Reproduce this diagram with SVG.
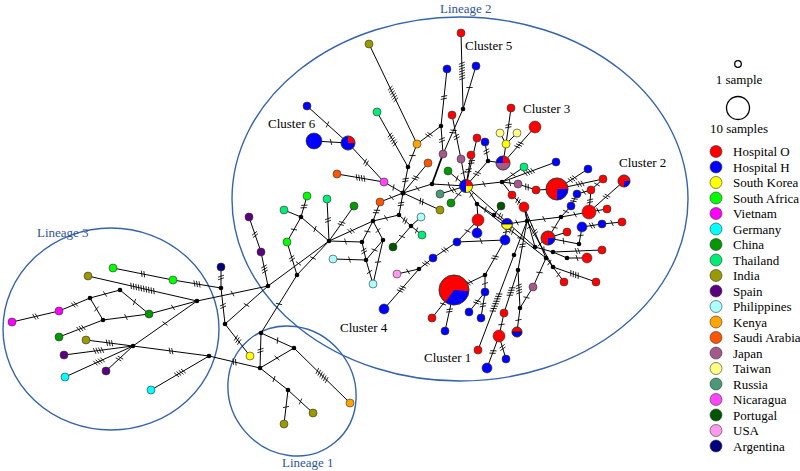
<svg xmlns="http://www.w3.org/2000/svg" width="800" height="471" viewBox="0 0 800 471">
<style>
.e{fill:none;stroke:#000;stroke-width:1}
.n{stroke:#333;stroke-width:.6}
.ol{fill:none;stroke:#333;stroke-width:.6}
.m{fill:#000}
.lin{fill:none;stroke:#3563ad;stroke-width:1.4}
.lt{font-family:"Liberation Serif",serif;font-size:13px;fill:#2f5597}
.ct{font-family:"Liberation Serif",serif;font-size:13px;fill:#000}
.O{fill:#ff0000}.H{fill:#0000ff}.SK{fill:#ffff00}.SA{fill:#00ff00}.VN{fill:#ff00ff}.DE{fill:#00ffff}.CN{fill:#009900}.TH{fill:#00ee77}.IN{fill:#999900}.ES{fill:#5a0080}.PH{fill:#aaffff}.KE{fill:#ffa500}.SAU{fill:#ff5500}.JP{fill:#a5588a}.TW{fill:#ffff88}.RU{fill:#4a9a7a}.NI{fill:#ff44ff}.PT{fill:#005500}.US{fill:#ff99ee}.AR{fill:#000080}
.k1{marker-mid:url(#t1)}.k2{marker-mid:url(#t2)}.k3{marker-mid:url(#t3)}.k4{marker-mid:url(#t4)}.k5{marker-mid:url(#t5)}.k6{marker-mid:url(#t6)}.k7{marker-mid:url(#t7)}.k8{marker-mid:url(#t8)}.k10{marker-mid:url(#t10)}
</style>
<defs>
<marker id="t1" markerUnits="userSpaceOnUse" orient="auto" overflow="visible" markerWidth="1" markerHeight="1"><path d="M-1 -3L1 3" stroke="#000" stroke-width=".8"/></marker>
<marker id="t2" markerUnits="userSpaceOnUse" orient="auto" overflow="visible" markerWidth="1" markerHeight="1"><path d="M-2.3 -3L-.3 3M.3 -3L2.3 3" stroke="#000" stroke-width=".8"/></marker>
<marker id="t3" markerUnits="userSpaceOnUse" orient="auto" overflow="visible" markerWidth="1" markerHeight="1"><path d="M-3.6 -3L-1.6 3M-1 -3L1 3M1.6 -3L3.6 3" stroke="#000" stroke-width=".8"/></marker>
<marker id="t4" markerUnits="userSpaceOnUse" orient="auto" overflow="visible" markerWidth="1" markerHeight="1"><path d="M-4.9 -3L-2.9 3M-2.3 -3L-.3 3M.3 -3L2.3 3M2.9 -3L4.9 3" stroke="#000" stroke-width=".8"/></marker>
<marker id="t5" markerUnits="userSpaceOnUse" orient="auto" overflow="visible" markerWidth="1" markerHeight="1"><path d="M-6.2 -3L-4.2 3M-3.6 -3L-1.6 3M-1 -3L1 3M1.6 -3L3.6 3M4.2 -3L6.2 3" stroke="#000" stroke-width=".8"/></marker>
<marker id="t6" markerUnits="userSpaceOnUse" orient="auto" overflow="visible" markerWidth="1" markerHeight="1"><path d="M-7.5 -3L-5.5 3M-4.9 -3L-2.9 3M-2.3 -3L-.3 3M.3 -3L2.3 3M2.9 -3L4.9 3M5.5 -3L7.5 3" stroke="#000" stroke-width=".8"/></marker>
<marker id="t7" markerUnits="userSpaceOnUse" orient="auto" overflow="visible" markerWidth="1" markerHeight="1"><path d="M-8.8 -3L-6.8 3M-6.2 -3L-4.2 3M-3.6 -3L-1.6 3M-1 -3L1 3M1.6 -3L3.6 3M4.2 -3L6.2 3M6.8 -3L8.8 3" stroke="#000" stroke-width=".8"/></marker>
<marker id="t8" markerUnits="userSpaceOnUse" orient="auto" overflow="visible" markerWidth="1" markerHeight="1"><path d="M-10.1 -3L-8.1 3M-7.5 -3L-5.5 3M-4.9 -3L-2.9 3M-2.3 -3L-.3 3M.3 -3L2.3 3M2.9 -3L4.9 3M5.5 -3L7.5 3M8.1 -3L10.1 3" stroke="#000" stroke-width=".8"/></marker>
<marker id="t10" markerUnits="userSpaceOnUse" orient="auto" overflow="visible" markerWidth="1" markerHeight="1"><path d="M-12.7 -3L-10.7 3M-10.1 -3L-8.1 3M-7.5 -3L-5.5 3M-4.9 -3L-2.9 3M-2.3 -3L-.3 3M.3 -3L2.3 3M2.9 -3L4.9 3M5.5 -3L7.5 3M8.1 -3L10.1 3M10.7 -3L12.7 3" stroke="#000" stroke-width=".8"/></marker>
</defs>
<rect width="800" height="471" fill="#fff"/>
<g id="lineages">
<ellipse class="lin" cx="111" cy="329" rx="108" ry="101"/>
<ellipse class="lin" cx="0" cy="0" rx="67" ry="62" transform="translate(292 391) rotate(50)"/>
<ellipse class="lin" cx="460" cy="199" rx="228" ry="182"/>
<text class="lt" x="37" y="237">Lineage 3</text>
<text class="lt" x="282" y="467">Lineage 1</text>
<text class="lt" x="440" y="12.5">Lineage 2</text>
<text class="ct" x="268" y="128">Cluster 6</text>
<text class="ct" x="465" y="50">Cluster 5</text>
<text class="ct" x="523" y="112.5">Cluster 3</text>
<text class="ct" x="619" y="166.5">Cluster 2</text>
<text class="ct" x="340" y="331.5">Cluster 4</text>
<text class="ct" x="424" y="361.5">Cluster 1</text>
</g>
<g id="connectors">
<path class="e k2" d="M12 322L35.5 316.5L59 311"/>
<path class="e k2" d="M59 311L74.5 304.5L90 298"/>
<path class="e k1" d="M90 298L105 294L120 290"/>
<path class="e k1" d="M90 298L96.5 309L103 320"/>
<path class="e k1" d="M120 290L134.5 302L149 314"/>
<path class="e k1" d="M103 320L126 317L149 314"/>
<path class="e k3" d="M103 320L81 328.5L59 337"/>
<path class="e k1" d="M149 314L173 307.5L197 301"/>
<path class="e k10" d="M88 276L142.5 288.5L197 301"/>
<path class="e k2" d="M113 268L143 274L173 280"/>
<path class="e k3" d="M173 280L197 284L221 288"/>
<path class="e k1" d="M197 301L232.5 293.5L268 286"/>
<path class="e k1" d="M197 301L165 323.5L133 346"/>
<path class="e k3" d="M86 340L109.5 343L133 346"/>
<path class="e k4" d="M64 355L98.5 350.5L133 346"/>
<path class="e k4" d="M65 377L99 361.5L133 346"/>
<path class="e k2" d="M106 371L119.5 358.5L133 346"/>
<path class="e k2" d="M133 346L171 351L209 356"/>
<path class="e k4" d="M151 390L180 373L209 356"/>
<path class="e k2" d="M209 356L234.5 362L260 368"/>
<path class="e k2" d="M221 267L221 277.5L221 288"/>
<path class="e k2" d="M221 288L223 306L225 324"/>
<path class="e k1" d="M225 324L246.5 305L268 286"/>
<path class="e k3" d="M225 324L237.5 340L250 356"/>
<path class="e k2" d="M249 217L255 234.5L261 252"/>
<path class="e k3" d="M261 252L264.5 269L268 286"/>
<path class="e k1" d="M268 286L298.5 263.5L329 241"/>
<path class="e k1" d="M261 333L279 304L297 275"/>
<path class="e k2" d="M261 333L260.5 350.5L260 368"/>
<path class="e k1" d="M261 333L277.5 340.5L294 348"/>
<path class="e k1" d="M260 368L277 358L294 348"/>
<path class="e k1" d="M260 368L274 379L288 390"/>
<path class="e k6" d="M294 348L322 375.5L350 403"/>
<path class="e k1" d="M288 390L286 407L284 424"/>
<path class="e k1" d="M288 390L300.5 401.5L313 413"/>
<path class="e k1" d="M297 275L313 258L329 241"/>
<path class="e k2" d="M297 275L292 258.5L287 242"/>
<path class="e k1" d="M287 242L294 229.5L301 217"/>
<path class="e k2" d="M301 217L304 206.5L307 196"/>
<path class="e" d="M301 217L284 210"/>
<path class="e k1" d="M301 217L315 229L329 241"/>
<path class="e k2" d="M327 199L328 220L329 241"/>
<path class="e k2" d="M354 206L341.5 223.5L329 241"/>
<path class="e k1" d="M329 241L345.5 241.5L362 242"/>
<path class="e k2" d="M329 241L351 231L373 221"/>
<path class="e k2" d="M373 221L376.5 211.5L380 202"/>
<path class="e k1" d="M380 202L391.5 197.5L403 193"/>
<path class="e k1" d="M373 221L386 218L399 215"/>
<path class="e k2" d="M399 215L401 204L403 193"/>
<path class="e k1" d="M373 221L367.5 231.5L362 242"/>
<path class="e k1" d="M373 221L378 230.5L383 240"/>
<path class="e k2" d="M362 242L364 251L366 260"/>
<path class="e k1" d="M383 240L374.5 250L366 260"/>
<path class="e k1" d="M366 260L349.5 259.5L333 259"/>
<path class="e k1" d="M366 260L369.5 272L373 284"/>
<path class="e k1" d="M383 240L378 262L373 284"/>
<path class="e k2" d="M399 215L405 220.5L411 226"/>
<path class="e" d="M411 226L421 217"/>
<path class="e k1" d="M411 226L416.5 230.5L422 235"/>
<path class="e k1" d="M411 226L402 236.5L393 247"/>
<path class="e k1" d="M397 274L408 271.5L419 269"/>
<path class="e k2" d="M419 269L426 263.5L433 258"/>
<path class="e k3" d="M419 269L401.5 289L384 309"/>
<path class="e k2" d="M433 258L445 250L457 242"/>
<path class="e k1" d="M307 106L327.5 124.5L348 143"/>
<path class="e k1" d="M314 141L331 142L348 143"/>
<path class="e k2" d="M348 143L366 162.5L384 182"/>
<path class="e k4" d="M337 174L360.5 178L384 182"/>
<path class="e k1" d="M384 182L393.5 187.5L403 193"/>
<path class="e k5" d="M377 112L392.5 139.5L408 167"/>
<path class="e k6" d="M369 44L393 94L417 144"/>
<path class="e k1" d="M417 144L412.5 155.5L408 167"/>
<path class="e k2" d="M408 167L405.5 180L403 193"/>
<path class="e k2" d="M417 144L429 135L441 126"/>
<path class="e k2" d="M441 126L444 97.5L447 69"/>
<path class="e k2" d="M441 126L442 140L443 154"/>
<path class="e" style="stroke-width:1.8" d="M443 154L432 184"/>
<path class="e k2" d="M428 163L415.5 178L403 193"/>
<path class="e k1" d="M403 193L417.5 188.5L432 184"/>
<path class="e k1" d="M432 184L449 185L466 186"/>
<path class="e k2" d="M440 194L453 190L466 186"/>
<path class="e k2" d="M403 193L421.5 201.5L440 210"/>
<path class="e k1" d="M451 203L458.5 194.5L466 186"/>
<path class="e k1" d="M448 171L457 178.5L466 186"/>
<path class="e k1" d="M461 159L463.5 172.5L466 186"/>
<path class="e k2" d="M471 155L468.5 170.5L466 186"/>
<path class="e k2" d="M477 138L471.5 162L466 186"/>
<path class="e k2" d="M485 142L486.5 151.5L488 161"/>
<path class="e k2" d="M488 161L477 173.5L466 186"/>
<path class="e" d="M488 161L503 163"/>
<path class="e k2" d="M511 108L508.5 126L506 144"/>
<path class="e" d="M500 133L506 144"/>
<path class="e" d="M517 133L506 144"/>
<path class="e" d="M506 144L503 163"/>
<path class="e k3" d="M535 127L519 145L503 163"/>
<path class="e k7" d="M461 33L462 71L463 109"/>
<path class="e k1" d="M476 66L469.5 87.5L463 109"/>
<path class="e k2" d="M463 109L453 131.5L443 154"/>
<path class="e k2" d="M452 115L456.5 137L461 159"/>
<path class="e k1" d="M466 186L484 184L502 182"/>
<path class="e k1" d="M502 182L510 183L518 184"/>
<path class="e k1" d="M502 182L513 174.5L524 167"/>
<path class="e k4" d="M502 182L529 172L556 162"/>
<path class="e k2" d="M518 184L527 187L536 190"/>
<path class="e k3" d="M557 189L572.5 179L588 169"/>
<path class="e k3" d="M557 189L580 184L603 179"/>
<path class="e k1" d="M603 179L597 184.5L591 190"/>
<path class="e k1" d="M577 194L584 192L591 190"/>
<path class="e k2" d="M591 190L590 201L589 212"/>
<path class="e k2" d="M577 194L574 200L571 206"/>
<path class="e k1" d="M571 206L566 211.5L561 217"/>
<path class="e k2" d="M624 181L606.5 196.5L589 212"/>
<path class="e k1" d="M589 212L598 210.5L607 209"/>
<path class="e k1" d="M589 212L575 214.5L561 217"/>
<path class="e k1" d="M561 217L554.5 227.5L548 238"/>
<path class="e k1" d="M561 217L544 219L527 221"/>
<path class="e" d="M527 221L524 207"/>
<path class="e k2" d="M582 227L592 225.5L602 224"/>
<path class="e k1" d="M602 224L612 223L622 222"/>
<path class="e" d="M548 238L567 232"/>
<path class="e k1" d="M548 238L563.5 241L579 244"/>
<path class="e k1" d="M579 244L580.5 235.5L582 227"/>
<path class="e k1" d="M535 247L544 249.5L553 252"/>
<path class="e k2" d="M553 252L577.5 251L602 250"/>
<path class="e" d="M553 252L567 258"/>
<path class="e k1" d="M567 258L577 258L587 258"/>
<path class="e k1" d="M546 258L549.5 262.5L553 267"/>
<path class="e k4" d="M553 267L574.5 274.5L596 282"/>
<path class="e k1" d="M553 267L558.5 274.5L564 282"/>
<path class="e k1" d="M533 287L526.5 297.5L520 308"/>
<path class="e k1" d="M533 287L539.5 272.5L546 258"/>
<path class="e k1" d="M466 186L471.5 195L477 204"/>
<path class="e" d="M477 204L478 220"/>
<path class="e k1" d="M477 204L485.5 209.5L494 215"/>
<path class="e" d="M494 215L507 224"/>
<path class="e k1" d="M507 224L517 222.5L527 221"/>
<path class="e k1" d="M507 224L506 232L505 240"/>
<path class="e k1" d="M457 242L481 241L505 240"/>
<path class="e" d="M478 220L477 233"/>
<path class="e k1" d="M457 242L467.5 231L478 220"/>
<path class="e k2" d="M505 240L495 257.5L485 275"/>
<path class="e k2" d="M485 275L469.5 282.5L454 290"/>
<path class="e k1" d="M485 275L485 283.5L485 292"/>
<path class="e k2" d="M469 312L477 302L485 292"/>
<path class="e k2" d="M481 318L483 305L485 292"/>
<path class="e k1" d="M454 290L443 304L432 318"/>
<path class="e k2" d="M454 290L449.5 310.5L445 331"/>
<path class="e k1" d="M527 221L520.5 238L514 255"/>
<path class="e k8" d="M514 255L496 302.5L478 350"/>
<path class="e k2" d="M527 221L522.5 245.5L518 270"/>
<path class="e k4" d="M518 270L511 291.5L504 313"/>
<path class="e k4" d="M518 270L519 289L520 308"/>
<path class="e k1" d="M504 313L501.5 324.5L499 336"/>
<path class="e k2" d="M499 336L493 352L487 368"/>
<path class="e k2" d="M499 336L502.5 347.5L506 359"/>
<path class="e k1" d="M517 332L518.5 320L520 308"/>
<path class="e k1" d="M524 207L529.5 227L535 247"/>
<path class="e k2" d="M512 195L518 201L524 207"/>
<path class="e" d="M512 195L502 182"/>
<path class="e k2" d="M524 207L535 232.5L546 258"/>
<path class="e k1" d="M527 221L540 244L553 267"/>
<path class="e" d="M501 206L494 215"/>
<path class="e" d="M536 190L557 189"/>
<path class="e k2" d="M466 186L500.5 216.5L535 247"/>
<path class="e k2" d="M477 204L511.5 231L546 258"/>
</g>
<g id="nodes">
<g id="l3_vn1"><circle class="n VN" cx="12" cy="322" r="4"/></g>
<g id="l3_vn2"><circle class="n VN" cx="59" cy="311" r="4"/></g>
<g id="l3_m1"><circle class="m" cx="90" cy="298" r="2.3"/></g>
<g id="l3_m2"><circle class="m" cx="120" cy="290" r="2.3"/></g>
<g id="l3_m3"><circle class="m" cx="103" cy="320" r="2.3"/></g>
<g id="l3_cn1"><circle class="n CN" cx="149" cy="314" r="4"/></g>
<g id="l3_in1"><circle class="n IN" cx="88" cy="276" r="4"/></g>
<g id="l3_sa1"><circle class="n SA" cx="113" cy="268" r="4"/></g>
<g id="l3_sa2"><circle class="n SA" cx="173" cy="280" r="4"/></g>
<g id="l3_m4"><circle class="m" cx="197" cy="301" r="2.3"/></g>
<g id="l3_cn2"><circle class="n CN" cx="59" cy="337" r="4"/></g>
<g id="l3_in2"><circle class="n IN" cx="86" cy="340" r="4"/></g>
<g id="l3_m5"><circle class="m" cx="133" cy="346" r="2.3"/></g>
<g id="l3_es1"><circle class="n ES" cx="64" cy="355" r="4"/></g>
<g id="l3_de1"><circle class="n DE" cx="65" cy="377" r="4"/></g>
<g id="l3_es2"><circle class="n ES" cx="106" cy="371" r="4"/></g>
<g id="l3_m6"><circle class="m" cx="209" cy="356" r="2.3"/></g>
<g id="l3_de2"><circle class="n DE" cx="151" cy="390" r="4"/></g>
<g id="j_ar"><circle class="n AR" cx="221" cy="267" r="4"/></g>
<g id="j_m1"><circle class="m" cx="221" cy="288" r="2.3"/></g>
<g id="j_m2"><circle class="m" cx="225" cy="324" r="2.3"/></g>
<g id="j_sk"><circle class="n SK" cx="250" cy="356" r="4"/></g>
<g id="j_es1"><circle class="n ES" cx="249" cy="217" r="4"/></g>
<g id="j_es2"><circle class="n ES" cx="261" cy="252" r="4"/></g>
<g id="j_m3"><circle class="m" cx="268" cy="286" r="2.3"/></g>
<g id="l1_m1"><circle class="m" cx="261" cy="333" r="2.3"/></g>
<g id="l1_m2"><circle class="m" cx="260" cy="368" r="2.3"/></g>
<g id="l1_m3"><circle class="m" cx="294" cy="348" r="2.3"/></g>
<g id="l1_m4"><circle class="m" cx="288" cy="390" r="2.3"/></g>
<g id="l1_ke"><circle class="n KE" cx="350" cy="403" r="4"/></g>
<g id="l1_in1"><circle class="n IN" cx="284" cy="424" r="4"/></g>
<g id="l1_in2"><circle class="n IN" cx="313" cy="413" r="4"/></g>
<g id="m_a"><circle class="m" cx="297" cy="275" r="2.3"/></g>
<g id="sa_a"><circle class="n SA" cx="287" cy="242" r="4"/></g>
<g id="m_b"><circle class="m" cx="301" cy="217" r="2.3"/></g>
<g id="sa_b"><circle class="n SA" cx="307" cy="196" r="4"/></g>
<g id="th_a"><circle class="n TH" cx="284" cy="210" r="4"/></g>
<g id="m_c"><circle class="m" cx="329" cy="241" r="2.3"/></g>
<g id="th_b"><circle class="n TH" cx="327" cy="199" r="4"/></g>
<g id="cn_a"><circle class="n CN" cx="354" cy="206" r="4"/></g>
<g id="m_d"><circle class="m" cx="362" cy="242" r="2.3"/></g>
<g id="m_e"><circle class="m" cx="373" cy="221" r="2.3"/></g>
<g id="sau_a"><circle class="n SAU" cx="380" cy="202" r="4"/></g>
<g id="hub"><circle class="m" cx="403" cy="193" r="2.5"/></g>
<g id="m_f"><circle class="m" cx="399" cy="215" r="2.3"/></g>
<g id="m_g"><circle class="m" cx="383" cy="240" r="2.3"/></g>
<g id="m_h"><circle class="m" cx="366" cy="260" r="2.3"/></g>
<g id="ph_a"><circle class="n PH" cx="333" cy="259" r="4"/></g>
<g id="ph_b"><circle class="n PH" cx="373" cy="284" r="4"/></g>
<g id="m_i"><circle class="m" cx="411" cy="226" r="2.3"/></g>
<g id="ph_c"><circle class="n PH" cx="421" cy="217" r="4"/></g>
<g id="th_c"><circle class="n TH" cx="422" cy="235" r="4"/></g>
<g id="pt_a"><circle class="n PT" cx="393" cy="247" r="4"/></g>
<g id="us_a"><circle class="n US" cx="397" cy="274" r="4"/></g>
<g id="m_j"><circle class="m" cx="419" cy="269" r="2.3"/></g>
<g id="h_a"><circle class="n H" cx="433" cy="258" r="4"/></g>
<g id="h_b"><circle class="n H" cx="384" cy="309" r="5"/></g>
<g id="h_c"><circle class="n H" cx="457" cy="242" r="4"/></g>
<g id="h_c6a"><circle class="n H" cx="307" cy="106" r="4"/></g>
<g id="h_c6big"><circle class="n H" cx="314" cy="141" r="8"/></g>
<g id="ho_c6"><circle class="n H" cx="348" cy="143" r="7"/><path class="O" d="M348 143L348 136A7 7 0 0 1 355 143Z"/><circle class="ol" cx="348" cy="143" r="7"/></g>
<g id="nic"><circle class="n NI" cx="384" cy="182" r="4"/></g>
<g id="sau_b"><circle class="n SAU" cx="337" cy="174" r="4"/></g>
<g id="th_d"><circle class="n TH" cx="377" cy="112" r="4"/></g>
<g id="m_k"><circle class="m" cx="408" cy="167" r="2.3"/></g>
<g id="in_a"><circle class="n IN" cx="369" cy="44" r="4"/></g>
<g id="ke_a"><circle class="n KE" cx="417" cy="144" r="4"/></g>
<g id="m_l"><circle class="m" cx="441" cy="126" r="2.3"/></g>
<g id="h_d"><circle class="n H" cx="447" cy="69" r="4"/></g>
<g id="jp_a"><circle class="n JP" cx="443" cy="154" r="4"/></g>
<g id="sau_c"><circle class="n SAU" cx="428" cy="163" r="4"/></g>
<g id="m_n"><circle class="m" cx="432" cy="184" r="2.3"/></g>
<g id="ru"><circle class="n RU" cx="440" cy="194" r="4"/></g>
<g id="in_b"><circle class="n IN" cx="440" cy="210" r="4"/></g>
<g id="cn_b"><circle class="n CN" cx="451" cy="203" r="4"/></g>
<g id="cn_c"><circle class="n CN" cx="448" cy="171" r="4"/></g>
<g id="jp_b"><circle class="n JP" cx="461" cy="159" r="4"/></g>
<g id="o_a"><circle class="n O" cx="471" cy="155" r="4"/></g>
<g id="o_b"><circle class="n O" cx="477" cy="138" r="4"/></g>
<g id="h_e"><circle class="n H" cx="485" cy="142" r="4"/></g>
<g id="m_o"><circle class="m" cx="488" cy="161" r="2.3"/></g>
<g id="mc"><circle class="n H" cx="466" cy="186" r="6.5"/><path class="O" d="M466 186L466 179.5A6.5 6.5 0 0 1 472.5 186Z"/><path class="SK" d="M466 186L472.5 186A6.5 6.5 0 0 1 466 192.5Z"/><circle class="ol" cx="466" cy="186" r="6.5"/></g>
<g id="mc2"><circle class="n JP" cx="503" cy="163" r="7"/><path class="H" d="M503 163L496 163A7 7 0 0 1 503 156Z"/><path class="O" d="M503 163L503 156A7 7 0 0 1 510 163Z"/><circle class="ol" cx="503" cy="163" r="7"/></g>
<g id="o_c3"><circle class="n O" cx="511" cy="108" r="4"/></g>
<g id="sk_a"><circle class="n SK" cx="506" cy="144" r="4"/></g>
<g id="tw_a"><circle class="n TW" cx="500" cy="133" r="4"/></g>
<g id="tw_b"><circle class="n TW" cx="517" cy="133" r="4"/></g>
<g id="o_d"><circle class="n O" cx="535" cy="127" r="6"/></g>
<g id="o_c5"><circle class="n O" cx="461" cy="33" r="4"/></g>
<g id="h_f"><circle class="n H" cx="476" cy="66" r="4"/></g>
<g id="m_p"><circle class="m" cx="463" cy="109" r="2.3"/></g>
<g id="o_e"><circle class="n O" cx="452" cy="115" r="4"/></g>
<g id="m_q"><circle class="m" cx="502" cy="182" r="2.3"/></g>
<g id="jp_c"><circle class="n JP" cx="518" cy="184" r="4"/></g>
<g id="th_e"><circle class="n TH" cx="524" cy="167" r="4"/></g>
<g id="h_g"><circle class="n H" cx="556" cy="162" r="4"/></g>
<g id="o_f"><circle class="n O" cx="536" cy="190" r="4"/></g>
<g id="big2"><circle class="n O" cx="557" cy="189" r="11"/><path class="H" d="M557 189L568 189A11 11 0 0 1 557 200Z"/><circle class="ol" cx="557" cy="189" r="11"/></g>
<g id="h_h"><circle class="n H" cx="588" cy="169" r="4"/></g>
<g id="o_g"><circle class="n O" cx="603" cy="179" r="4"/></g>
<g id="o_h"><circle class="n O" cx="591" cy="190" r="4"/></g>
<g id="h_i"><circle class="n H" cx="577" cy="194" r="4"/></g>
<g id="h_j"><circle class="n H" cx="571" cy="206" r="4"/></g>
<g id="m_r"><circle class="m" cx="561" cy="217" r="2.3"/></g>
<g id="ho_c2"><circle class="n O" cx="624" cy="181" r="6"/><path class="H" d="M624 181L630 181A6 6 0 0 1 624 187Z"/><circle class="ol" cx="624" cy="181" r="6"/></g>
<g id="o_i"><circle class="n O" cx="589" cy="212" r="7"/></g>
<g id="o_j"><circle class="n O" cx="607" cy="209" r="4"/></g>
<g id="ho_b"><circle class="n O" cx="548" cy="238" r="7"/><path class="H" d="M548 238L555 238A7 7 0 0 1 548 245Z"/><circle class="ol" cx="548" cy="238" r="7"/></g>
<g id="m_s"><circle class="m" cx="527" cy="221" r="2.3"/></g>
<g id="o_k"><circle class="n O" cx="524" cy="207" r="5"/></g>
<g id="h_k"><circle class="n H" cx="582" cy="227" r="5"/></g>
<g id="h_l"><circle class="n H" cx="602" cy="224" r="4"/></g>
<g id="o_l"><circle class="n O" cx="622" cy="222" r="4"/></g>
<g id="o_m"><circle class="n O" cx="567" cy="232" r="4"/></g>
<g id="m_t"><circle class="m" cx="579" cy="244" r="2.3"/></g>
<g id="m_u"><circle class="m" cx="535" cy="247" r="2.3"/></g>
<g id="m_v"><circle class="m" cx="553" cy="252" r="2.3"/></g>
<g id="o_n"><circle class="n O" cx="602" cy="250" r="4"/></g>
<g id="m_w"><circle class="m" cx="567" cy="258" r="2.3"/></g>
<g id="o_o"><circle class="n O" cx="587" cy="258" r="5"/></g>
<g id="m_x"><circle class="m" cx="546" cy="258" r="2.3"/></g>
<g id="m_y"><circle class="m" cx="553" cy="267" r="2.3"/></g>
<g id="o_p"><circle class="n O" cx="596" cy="282" r="4"/></g>
<g id="o_q"><circle class="n O" cx="564" cy="282" r="4"/></g>
<g id="jp_d"><circle class="n JP" cx="533" cy="287" r="4"/></g>
<g id="m_z"><circle class="m" cx="520" cy="308" r="2.3"/></g>
<g id="m_aa"><circle class="m" cx="477" cy="204" r="2.3"/></g>
<g id="o_r"><circle class="n O" cx="478" cy="220" r="6"/></g>
<g id="m_ab"><circle class="m" cx="494" cy="215" r="2.3"/></g>
<g id="hy"><circle class="n SK" cx="507" cy="224" r="5.5"/><path class="H" d="M501.5 224A5.5 5.5 0 0 1 512.5 224Z"/><path d="M501.5 224H512.5" stroke="#000" stroke-width=".8"/><circle class="ol" cx="507" cy="224" r="5.5"/></g>
<g id="h_m"><circle class="n H" cx="505" cy="240" r="5"/></g>
<g id="h_n"><circle class="n H" cx="477" cy="233" r="5"/></g>
<g id="m_ac"><circle class="m" cx="485" cy="275" r="2.3"/></g>
<g id="big1"><circle class="n O" cx="454" cy="290" r="15"/><path class="H" d="M454 290L468.9 291.3A15 15 0 0 1 445.4 302.3Z"/><circle class="ol" cx="454" cy="290" r="15"/></g>
<g id="h_o"><circle class="n H" cx="485" cy="292" r="4"/></g>
<g id="h_p"><circle class="n H" cx="469" cy="312" r="4"/></g>
<g id="h_q"><circle class="n H" cx="481" cy="318" r="4"/></g>
<g id="o_s"><circle class="n O" cx="432" cy="318" r="4"/></g>
<g id="h_r"><circle class="n H" cx="445" cy="331" r="4"/></g>
<g id="m_ad"><circle class="m" cx="514" cy="255" r="2.3"/></g>
<g id="o_t"><circle class="n O" cx="478" cy="350" r="4"/></g>
<g id="m_ae"><circle class="m" cx="518" cy="270" r="2.3"/></g>
<g id="o_u"><circle class="n O" cx="504" cy="313" r="4"/></g>
<g id="o_v"><circle class="n O" cx="499" cy="336" r="6"/></g>
<g id="h_s"><circle class="n H" cx="487" cy="368" r="5"/></g>
<g id="h_t"><circle class="n H" cx="506" cy="359" r="4"/></g>
<g id="ho_c1"><circle class="n O" cx="517" cy="332" r="5"/><path class="H" d="M512 332A5 5 0 0 0 522 332Z"/><path d="M512 332H522" stroke="#000" stroke-width=".8"/><circle class="ol" cx="517" cy="332" r="5"/></g>
<g id="o_w"><circle class="n O" cx="512" cy="195" r="4"/></g>
<g id="pt_b"><circle class="n PT" cx="501" cy="206" r="4"/></g>
</g>
<g id="legend">
<circle cx="738" cy="64" r="3.3" fill="#fff" stroke="#000" stroke-width="1.3"/>
<text class="ct" x="739" y="84" text-anchor="middle">1 sample</text>
<circle cx="738" cy="108" r="11.5" fill="#fff" stroke="#000" stroke-width="1.3"/>
<text class="ct" x="739" y="133" text-anchor="middle">10 samples</text>
<circle class="n O" cx="716" cy="151.5" r="6"/><text class="ct" x="733" y="156">Hospital O</text>
<circle class="n H" cx="716" cy="167" r="6"/><text class="ct" x="733" y="171.5">Hospital H</text>
<circle class="n SK" cx="716" cy="182.5" r="6"/><text class="ct" x="733" y="187">South Korea</text>
<circle class="n SA" cx="716" cy="198" r="6"/><text class="ct" x="733" y="202.5">South Africa</text>
<circle class="n VN" cx="716" cy="213.5" r="6"/><text class="ct" x="733" y="218">Vietnam</text>
<circle class="n DE" cx="716" cy="229" r="6"/><text class="ct" x="733" y="233.5">Germany</text>
<circle class="n CN" cx="716" cy="244.5" r="6"/><text class="ct" x="733" y="249">China</text>
<circle class="n TH" cx="716" cy="260" r="6"/><text class="ct" x="733" y="264.5">Thailand</text>
<circle class="n IN" cx="716" cy="275.5" r="6"/><text class="ct" x="733" y="280">India</text>
<circle class="n ES" cx="716" cy="291" r="6"/><text class="ct" x="733" y="295.5">Spain</text>
<circle class="n PH" cx="716" cy="306.5" r="6"/><text class="ct" x="733" y="311">Philippines</text>
<circle class="n KE" cx="716" cy="322" r="6"/><text class="ct" x="733" y="326.5">Kenya</text>
<circle class="n SAU" cx="716" cy="337.5" r="6"/><text class="ct" x="733" y="342">Saudi Arabia</text>
<circle class="n JP" cx="716" cy="353" r="6"/><text class="ct" x="733" y="357.5">Japan</text>
<circle class="n TW" cx="716" cy="368.5" r="6"/><text class="ct" x="733" y="373">Taiwan</text>
<circle class="n RU" cx="716" cy="384" r="6"/><text class="ct" x="733" y="388.5">Russia</text>
<circle class="n NI" cx="716" cy="399.5" r="6"/><text class="ct" x="733" y="404">Nicaragua</text>
<circle class="n PT" cx="716" cy="415" r="6"/><text class="ct" x="733" y="419.5">Portugal</text>
<circle class="n US" cx="716" cy="430.5" r="6"/><text class="ct" x="733" y="435">USA</text>
<circle class="n AR" cx="716" cy="446" r="6"/><text class="ct" x="733" y="450.5">Argentina</text>
</g>
</svg>
